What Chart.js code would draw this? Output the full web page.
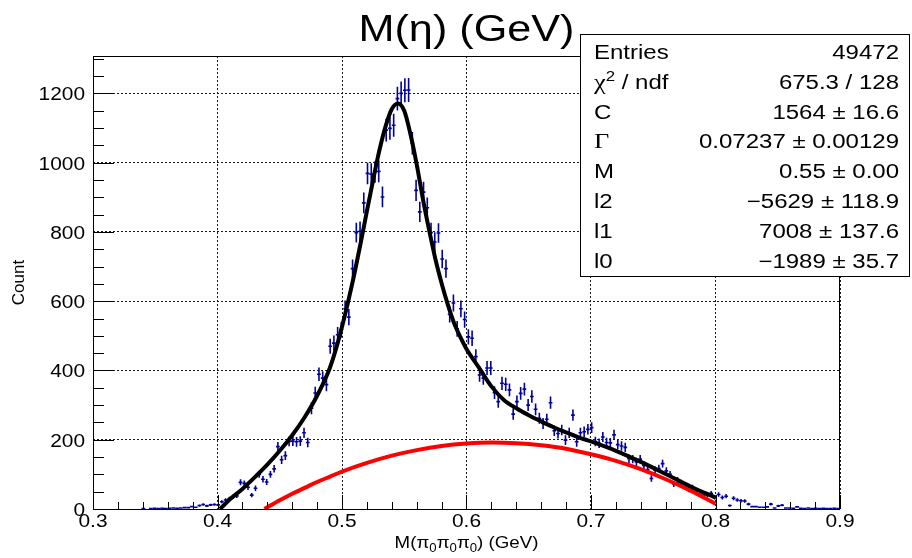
<!DOCTYPE html>
<html>
<head>
    <meta charset="utf-8">
    <title>M(eta) fit</title>
    <script src="https://cdn.jsdelivr.net/npm/chart.js@4.4.1/dist/chart.umd.min.js"></script>
    <style>
        body { margin: 0; background: #fff; }
        canvas { display: block; }
    </style>
    <script>
        // histogram: 200 bins of 0.003 GeV from 0.3 to 0.9
        var binLow = 0.3;
        var binWidth = 0.003;
        var counts = [
            0, 0, 0, 0, 0, 0, 0, 0, 0, 0,
            0, 0, 0, 1, 0, 1, 2, 1, 2, 1,
            2, 3, 2, 3, 4, 4, 7, 5, 10, 13,
            9, 12, 13, 12, 21, 26, 30, 35, 38, 77,
            74, 63, 40, 60, 100, 86, 78, 100, 116, 180,
            142, 154, 195, 196, 194, 196, 220, 192, 291, 335,
            389, 378, 359, 470, 479, 503, 518, 578, 554, 694,
            798, 802, 884, 969, 967, 973, 975, 901, 1094, 1099,
            1108, 1185, 1200, 1209, 1210, 1056, 920, 858, 915, 870,
            798, 771, 797, 722, 694, 562, 595, 520, 578, 547,
            497, 493, 440, 387, 378, 407, 407, 336, 310, 363,
            360, 344, 274, 310, 334, 346, 300, 325, 288, 262,
            247, 259, 307, 226, 218, 228, 199, 220, 271, 194,
            220, 223, 230, 235, 195, 190, 208, 192, 191, 214,
            186, 182, 178, 145, 144, 136, 144, 126, 114, 88,
            112, 117, 131, 110, 100, 72, 83, 76, 64, 56,
            62, 50, 43, 40, 40, 45, 33, 42, 33, 37,
            10, 31, 26, 24, 23, 14, 7, 7, 5, 5,
            6, 14, 3, 9, 11, 3, 3, 2, 6, 2,
            1, 3, 1, 2, 1, 2, 1, 1, 2, 1
        ];

        // total fit curve (black)
        var fitX = [0.402, 0.41, 0.42, 0.43, 0.44, 0.45, 0.46, 0.47, 0.48, 0.49, 0.495, 0.50,
            0.505, 0.51, 0.515, 0.52, 0.525, 0.53, 0.535, 0.54, 0.545, 0.55, 0.555, 0.56,
            0.565, 0.57, 0.575, 0.58, 0.585, 0.59, 0.595, 0.60, 0.61, 0.62, 0.63, 0.64,
            0.65, 0.66, 0.67, 0.68, 0.69, 0.70, 0.72, 0.74, 0.76, 0.78, 0.80];
        var fitY = [0, 28, 58, 92, 128, 168, 213, 265, 327, 405, 460, 526,
            600, 680, 768, 860, 950, 1035, 1105, 1155, 1171, 1150, 1082, 995,
            895, 805, 722, 652, 590, 537, 497, 462, 408, 354, 315, 291,
            271, 253, 236, 221, 207, 195, 168, 136, 101, 65, 33];

        // background polynomial (red)
        var bkgX = [0.4377, 0.45, 0.46, 0.47, 0.48, 0.49, 0.50, 0.52, 0.54, 0.56, 0.58,
            0.60, 0.62, 0.64, 0.66, 0.68, 0.70, 0.72, 0.74, 0.76, 0.78, 0.80];
        var bkgY = [0, 25, 44, 61, 78, 93, 108, 133, 154, 170, 182,
            189, 192, 190, 184, 174, 158, 139, 115, 86, 53, 15];

        var xTicks = [0.3, 0.4, 0.5, 0.6, 0.7, 0.8, 0.9];
        var xTickLabels = ["0.3", "0.4", "0.5", "0.6", "0.7", "0.8", "0.9"];
        var yTicks = [0, 200, 400, 600, 800, 1000, 1200];
        var yTickLabels = ["0", "200", "400", "600", "800", "1000", "1200"];

        var statNames = ["Entries", "chi2", "C", "Gamma", "M", "l2", "l1", "l0"];
        var statValues = ["49472", "675.3 / 128", "1564 \u00b1 16.6", "0.07237 \u00b1 0.00129",
            "0.55 \u00b1 0.00", "\u22125629 \u00b1 118.9", "7008 \u00b1 137.6", "\u22121989 \u00b1 35.7"];

        var SANS = '"Liberation Sans", Arial, Helvetica, sans-serif';
        var SERIF = '"Liberation Serif", "Times New Roman", serif';

        // draw a run of text pieces, horizontally stretched by sx
        function drawRich(ctx, pieces, x, y, align, sx) {
            var total = 0;
            pieces.forEach(function(p) {
                ctx.font = p.size + 'px ' + (p.family || SANS);
                p.w = ctx.measureText(p.t).width * sx;
                total += p.w;
            });
            var left = align === 'right' ? x - total : (align === 'center' ? x - total / 2 : x);
            pieces.forEach(function(p) {
                ctx.save();
                ctx.font = p.size + 'px ' + (p.family || SANS);
                ctx.textAlign = 'left';
                ctx.textBaseline = 'alphabetic';
                ctx.fillStyle = '#000';
                ctx.translate(left, y + (p.dy || 0));
                ctx.scale(sx, 1);
                ctx.fillText(p.t, 0, 0);
                ctx.restore();
                left += p.w;
            });
        }

        function txt(ctx, s, x, y, size, align, sx) {
            drawRich(ctx, [{ t: s, size: size }], x, y, align, sx);
        }

        var errorBars = {
            id: 'errorBars',
            beforeDatasetsDraw: function(chart) {
                var ctx = chart.ctx, xs = chart.scales.x, ys = chart.scales.y, a = chart.chartArea;
                ctx.save();
                ctx.beginPath();
                ctx.rect(a.left, a.top, a.right - a.left, a.bottom - a.top);
                ctx.clip();
                ctx.strokeStyle = '#00009c';
                ctx.lineWidth = 1.6;
                counts.forEach(function(n, i) {
                    if (n <= 0) return;
                    var c = binLow + binWidth * (i + 0.5);
                    var e = Math.sqrt(n);
                    var px = xs.getPixelForValue(c);
                    var py = ys.getPixelForValue(n);
                    ctx.beginPath();
                    ctx.moveTo(px, ys.getPixelForValue(n - e));
                    ctx.lineTo(px, ys.getPixelForValue(n + e));
                    ctx.moveTo(xs.getPixelForValue(c - binWidth / 2), py);
                    ctx.lineTo(xs.getPixelForValue(c + binWidth / 2), py);
                    ctx.stroke();
                });
                ctx.restore();
            }
        };

        var frameAndText = {
            id: 'frameAndText',
            afterDraw: function(chart) {
                var ctx = chart.ctx, xs = chart.scales.x, ys = chart.scales.y, a = chart.chartArea;
                var v, i;
                ctx.save();
                ctx.strokeStyle = '#000';
                ctx.lineWidth = 1;
                ctx.strokeRect(a.left + 0.5, a.top + 0.5, a.right - a.left - 1, a.bottom - a.top);

                // x ticks (major 0.1, minor 0.02)
                ctx.beginPath();
                for (i = 0; i <= 30; i++) {
                    v = 0.3 + i * 0.02;
                    var px = Math.round(xs.getPixelForValue(v)) + 0.5;
                    var len = (i % 5 === 0) ? 14 : 7;
                    ctx.moveTo(px, a.bottom);
                    ctx.lineTo(px, a.bottom - len);
                }
                // y ticks (major 200, minor 50)
                for (i = 0; i * 50 <= ys.max; i++) {
                    v = i * 50;
                    var py = Math.round(ys.getPixelForValue(v)) + 0.5;
                    var l2 = (i % 4 === 0) ? 21 : 11;
                    ctx.moveTo(a.left, py);
                    ctx.lineTo(a.left + l2, py);
                }
                ctx.stroke();

                // tick labels
                ctx.fillStyle = '#000';
                xTicks.forEach(function(t, k) {
                    txt(ctx, xTickLabels[k], xs.getPixelForValue(t), 527, 19, 'center', 1.1);
                });
                yTicks.forEach(function(t, k) {
                    txt(ctx, yTickLabels[k], 85, ys.getPixelForValue(t) + 7, 19, 'right', 1.1);
                });

                // axis titles
                var cx = (a.left + a.right) / 2;
                drawRich(ctx, [
                    { t: 'M(\u03c0', size: 17 }, { t: '0', size: 12, dy: 4 },
                    { t: '\u03c0', size: 17 }, { t: '0', size: 12, dy: 4 },
                    { t: '\u03c0', size: 17 }, { t: '0', size: 12, dy: 4 },
                    { t: ') (GeV)', size: 17 }
                ], cx, 548, 'center', 1.1);
                ctx.save();
                ctx.translate(24, (a.top + a.bottom) / 2);
                ctx.rotate(-Math.PI / 2);
                txt(ctx, 'Count', 0, 0, 17, 'center', 1);
                ctx.restore();

                // title
                txt(ctx, 'M(\u03b7) (GeV)', cx, 41, 36, 'center', 1.2);

                // stats box
                ctx.fillStyle = '#fff';
                ctx.fillRect(580.5, 34.5, 329, 242);
                ctx.strokeStyle = '#000';
                ctx.lineWidth = 1;
                ctx.strokeRect(580.5, 34.5, 329, 242);
                statNames.forEach(function(name, k) {
                    var y = 59 + k * 29.8;
                    var pieces;
                    if (name === 'chi2') {
                        pieces = [{ t: '\u03c7', size: 22, family: SERIF }, { t: '2', size: 14, dy: -8 },
                            { t: ' / ndf', size: 20 }];
                    } else if (name === 'Gamma') {
                        pieces = [{ t: '\u0393', size: 22, family: SERIF }];
                    } else {
                        pieces = [{ t: name, size: 20 }];
                    }
                    drawRich(ctx, pieces, 594, y, 'left', 1.2);
                    txt(ctx, statValues[k], 899, y, 20, 'right', 1.2);
                });
                ctx.restore();
            }
        };

        function LoadChart() {
            var ctx = document.getElementById("myChart");
            var hist = counts.map(function(n, i) {
                return { x: binLow + binWidth * (i + 0.5), y: n };
            });
            var fit = fitX.map(function(x, i) { return { x: x, y: fitY[i] }; });
            var bkg = bkgX.map(function(x, i) { return { x: x, y: bkgY[i] }; });
            return new Chart(ctx, {
                type: 'scatter',
                data: {
                    datasets: [{
                        data: hist,
                        pointRadius: 0,
                        showLine: false
                    }, {
                        data: fit,
                        showLine: true,
                        borderColor: '#000000',
                        borderWidth: 4,
                        pointRadius: 0,
                        cubicInterpolationMode: 'monotone',
                        fill: false
                    }, {
                        data: bkg,
                        showLine: true,
                        borderColor: '#ff0000',
                        borderWidth: 4,
                        pointRadius: 0,
                        cubicInterpolationMode: 'monotone',
                        fill: false
                    }]
                },
                options: {
                    responsive: false,
                    animation: false,
                    events: [],
                    layout: { padding: { left: 0, right: 72, top: 56, bottom: 0 } },
                    plugins: { legend: { display: false }, tooltip: { enabled: false } },
                    scales: {
                        x: {
                            type: 'linear',
                            min: 0.3,
                            max: 0.9,
                            afterBuildTicks: function(s) { s.ticks = xTicks.map(function(v) { return { value: v }; }); },
                            afterFit: function(s) { s.height = 49; },
                            ticks: { display: false },
                            grid: { color: 'rgba(0,0,0,0.9)', lineWidth: 1, drawTicks: false },
                            border: { display: false, dash: [2, 2] }
                        },
                        y: {
                            type: 'linear',
                            min: 0,
                            max: 1308,
                            afterBuildTicks: function(s) { s.ticks = yTicks.map(function(v) { return { value: v }; }); },
                            afterFit: function(s) { s.width = 93; },
                            ticks: { display: false },
                            grid: { color: 'rgba(0,0,0,0.9)', lineWidth: 1, drawTicks: false },
                            border: { display: false, dash: [2, 2] }
                        }
                    }
                },
                plugins: [errorBars, frameAndText]
            });
        }
    </script>
</head>

<body>
    <canvas id="myChart" width="912" height="558"></canvas>
    <script>
        var chart = LoadChart()
    </script>
</body>
</html>
